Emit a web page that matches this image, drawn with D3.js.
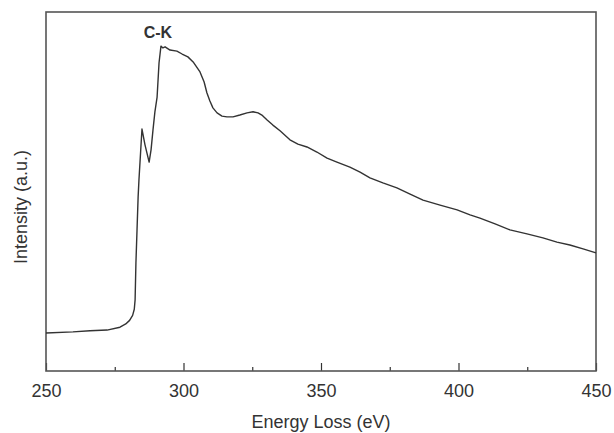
<!DOCTYPE html>
<html>
<head>
<meta charset="utf-8">
<script src="https://cdn.jsdelivr.net/npm/d3@7"></script>
<style>
  html, body { margin: 0; padding: 0; background: #fff; }
  svg { display: block; }
  text { font-family: "Liberation Sans", Arial, sans-serif; fill: #333; }
</style>
</head>
<body>
<div id="chart"></div>
<script>
// EELS spectrum, C-K edge
const energy = [250.0, 259.8, 266.0, 272.2, 276.9, 279.0, 280.4, 281.5, 282.1, 282.4, 282.7, 283.1, 283.5,
    283.8, 284.9, 286.0, 287.5, 288.2, 288.9, 289.6, 290.4, 291.1, 291.8,
    292.5, 293.3, 295.1, 297.6, 299.5, 301.6, 303.5, 306.0, 307.5, 308.5,
    309.6, 310.7, 312.2, 314.0, 315.8, 318.0, 320.5, 323.1, 325.3, 327.1,
    328.5, 330.4, 332.5, 335.1, 338.7, 341.6, 344.9, 348.5, 352.2, 355.8,
    360.5, 364.2, 367.8, 372.5, 377.6, 382.4, 387.1, 393.3, 399.5, 404.2,
    407.8, 413.3, 418.7, 424.9, 430.7, 435.8, 440.5, 445.3, 450.0];
const intensity = [106, 109, 112, 114, 122, 131, 141, 155, 172, 198, 301, 393, 485,
    532, 674, 630, 582, 616, 671, 722, 763, 858, 905,
    900, 903, 894, 891, 883, 875, 861, 833, 805, 775,
    752, 733, 719, 710, 708, 708, 713, 719, 722, 719,
    713, 699, 685, 669, 644, 632, 624, 610, 593, 582,
    568, 554, 538, 524, 510, 493, 476, 462, 449, 435,
    426, 410, 393, 382, 371, 359, 351, 340, 329];
const xTicks = [250, 300, 350, 400, 450];
const xMinorTicks = [275, 325, 375, 425];
const peakLabel = { text: 'C-K', x: 291.8 };

const W = 614, H = 433;
const margin = { top: 12, right: 18, bottom: 62, left: 46 };
const width = W - margin.left - margin.right;
const height = H - margin.top - margin.bottom;

const svg = d3.select('#chart').append('svg')
    .attr('width', W)
    .attr('height', H);

const g = svg.append('g')
    .attr('transform', `translate(${margin.left},${margin.top})`);

const x = d3.scaleLinear().domain([250, 450]).range([0, width]);
const y = d3.scaleLinear().domain([0, 1000]).range([height, 0]);

// Major ticks (inward) with labels
const xAxis = d3.axisBottom(x)
    .tickValues(xTicks)
    .tickSize(-8)
    .tickPadding(13)
    .tickFormat(d3.format('d'));

const ax = g.append('g')
    .attr('transform', `translate(0,${height})`)
    .call(xAxis);
ax.select('.domain').remove();
ax.selectAll('line').attr('stroke', '#333').attr('stroke-width', 1.2);
ax.selectAll('text')
    .style('font-size', '18px')
    .style('fill', '#333')
    .style('font-family', '"Liberation Sans", Arial, sans-serif');

// Minor ticks
const axMinor = g.append('g')
    .attr('transform', `translate(0,${height})`)
    .call(d3.axisBottom(x).tickValues(xMinorTicks).tickSize(-4).tickFormat(''));
axMinor.select('.domain').remove();
axMinor.selectAll('line').attr('stroke', '#333').attr('stroke-width', 1.2);

// Frame
g.append('rect')
    .attr('x', 0)
    .attr('y', 0)
    .attr('width', width)
    .attr('height', height)
    .attr('fill', 'none')
    .attr('stroke', '#555')
    .attr('stroke-width', 1.6);

// Spectrum
const points = energy.map((e, i) => [e, intensity[i]]);
const line = d3.line()
    .x(d => x(d[0]))
    .y(d => y(d[1]));

g.append('path')
    .datum(points)
    .attr('d', line)
    .attr('fill', 'none')
    .attr('stroke', '#333')
    .attr('stroke-width', 1.4)
    .attr('stroke-linejoin', 'round');

// Peak label
const peakY = d3.max(intensity);
g.append('text')
    .attr('x', x(peakLabel.x) - 3)
    .attr('y', y(peakY) - 8)
    .attr('text-anchor', 'middle')
    .style('font-size', '16px')
    .style('font-weight', 'bold')
    .text(peakLabel.text);

// Axis titles
svg.append('text')
    .attr('x', margin.left + width / 2)
    .attr('y', 428)
    .attr('text-anchor', 'middle')
    .style('font-size', '18px')
    .text('Energy Loss (eV)');

svg.append('text')
    .attr('transform', 'rotate(-90)')
    .attr('x', -207)
    .attr('y', 27)
    .attr('text-anchor', 'middle')
    .style('font-size', '18px')
    .text('Intensity (a.u.)');
</script>
</body>
</html>
